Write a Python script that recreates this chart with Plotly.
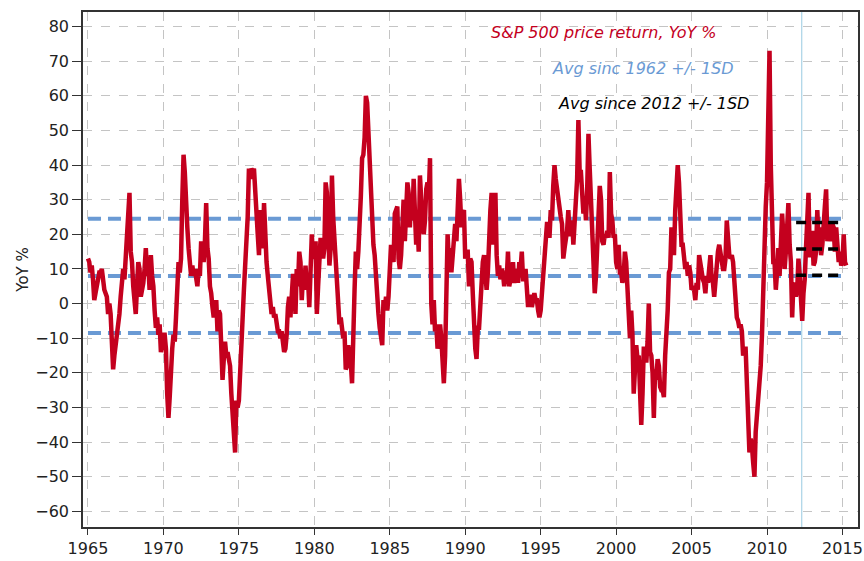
import plotly.graph_objects as go

START_YEAR = 1965
# S&P 500 price return, YoY %, monthly
yoy_1965_1974 = [
    13, 12, 9, 11, 7, 1, 3, 6, 7, 9, 9, 10,
    6, 4, 3, 2, -3, 0, -3, -12, -19, -15, -12, -10,
    -5, -3, 2, 6, 10, 7, 13, 22, 29, 32, 15, 12,
    5, -1, -3, 5, 12, 10, 2, 4, 6, 10, 16, 8,
    11, 4, 14, 8, 5, -2, -7, -4, -9, -6, -14, -12,
    -9, -9, -13, -26, -33, -27, -16, -13, -9, -11, -4, 2,
    12, 9, 13, 30, 43, 38, 26, 22, 16, 12, 8, 11,
    8, 10, 7, 5, 10, 8, 18, 13, 12, 18, 29, 16,
    13, 5, 3, -1, -4, -2, 1, -8, -2, -3, -18, -22,
    -16, -11, -15, -14, -16, -18, -26, -31, -38, -43, -28, -30,
]
yoy_1975_1984 = [
    -28, -18, -13, -4, 4, 11, 18, 25, 39, 36, 39, 38,
    39, 30, 21, 20, 14, 27, 18, 16, 29, 17, 12, 8,
    4, 1, -3, -1, -4, -3, -5, -8, -8, -10, -8, -13,
    -14, -13, -9, -1, 2, -4, 3, 8, 8, -3, 10, 5,
    15, 12, 1, 8, 4, 11, 5, 7, -1, 9, 20, 13,
    14, 18, -3, 5, 15, 19, 17, 13, 16, 35, 32, 24,
    11, 16, 37, 25, 19, 14, 8, 0, -6, -4, -9, -10,
    -8, -19, -18, -12, -16, -17, -23, -3, 4, 15, 10, 15,
    21, 31, 42, 43, 48, 60, 58, 50, 38, 28, 20, 17,
    14, 6, 4, -3, -7, -9, -12, 1, -2, 2, -2, 2,
]
yoy_1985_1994 = [
    10, 17, 14, 12, 26, 27, 28, 13, 10, 14, 24, 30,
    18, 30, 35, 32, 22, 31, 24, 36, 27, 17, 24, 15,
    37, 26, 23, 20, 24, 33, 35, 31, 42, 0, -6, 1,
    -8, -6, -13, -10, -6, -10, -15, -23, -15, 8, 20, 12,
    16, 9, 15, 20, 23, 18, 29, 36, 30, 22, 26, 27,
    13, 15, 15, 5, 13, 12, 3, -8, -13, -16, -7, -7,
    0, 11, 12, 14, 8, 4, 9, 23, 27, 32, 17, 26,
    32, 14, 8, 11, 7, 10, 9, 5, 8, 7, 15, 5,
    7, 7, 12, 6, 8, 10, 6, 12, 10, 15, 7, 7,
    10, 5, -1, 2, 2, -1, 2, 3, 1, 1, -2, -4,
]
yoy_1995_2004 = [
    -2, 4, 10, 14, 18, 23, 23, 19, 27, 24, 34, 40,
    36, 33, 29, 27, 25, 23, 13, 16, 18, 21, 27, 20,
    20, 24, 17, 24, 28, 36, 53, 38, 38, 30, 26, 31,
    24, 33, 49, 39, 29, 28, 17, 3, 8, 20, 22, 34,
    30, 18, 17, 20, 19, 21, 19, 38, 26, 24, 19, 20,
    12, 10, 17, 9, 9, 6, 8, 15, 12, 5, -5, -10,
    -2, -9, -26, -14, -12, -16, -15, -25, -35, -26, -13, -13,
    -17, -11, 0, -14, -15, -20, -33, -19, -22, -16, -18, -24,
    -25, -25, -27, -15, -10, -2, 9, 10, 22, 19, 14, 27,
    33, 40, 35, 21, 17, 17, 11, 10, 12, 8, 11, 9,
]
yoy_2005_2015 = [
    4, 5, 4, 1, 6, 4, 14, 11, 10, 7, 6, 3,
    8, 6, 10, 14, 7, 6, 2, 7, 9, 15, 17, 14,
    12, 10, 10, 13, 24, 18, 14, 13, 14, 12, 6, 3,
    -4, -5, -7, -6, -8, -15, -13, -13, -24, -37, -43, -39,
    -41, -46, -50, -37, -33, -28, -22, -18, -9, 4, 22, 28,
    35, 50, 73, 40, 19, 12, 12, 4, 9, 16, 8, 18,
    26, 20, 10, 15, 24, 29, 17, 12, -4, 6, 5, 2,
    4, 13, 8, 3, -5, 3, 7, 16, 27, 32, 14, 14,
    21, 11, 12, 15, 27, 18, 22, 14, 17, 25, 28, 33,
    18, 23, 19, 18, 23, 22, 15, 22, 17, 12, 15, 11,
    12, 20, 12, 11,
]

# Reference bands
avg_1962 = 8.0
sd_1962 = 16.5
band_1962_span = [1965.0, 2014.93]
avg_2012 = 15.8
sd_2012 = 7.6
band_2012_span = [2011.93, 2014.89]
marker_year = 2012.3

x_ticks = list(range(1965, 2016, 5))
y_ticks = list(range(-60, 81, 10))

label_main = "S&P 500 price return, YoY %"
label_1962 = "Avg sinc 1962 +/- 1SD"
label_2012 = "Avg since 2012 +/- 1SD"
y_title = "YoY %"

yoy = yoy_1965_1974 + yoy_1975_1984 + yoy_1985_1994 + yoy_1995_2004 + yoy_2005_2015
years = [START_YEAR + i / 12 for i in range(len(yoy))]

RED = "#C4001E"
BLUE = "#6A9AD4"
FONT = "DejaVu Sans"
Y_RANGE = [-64.5, 84.2]

fig = go.Figure()

fig.add_trace(go.Scatter(
    x=[marker_year, marker_year], y=Y_RANGE, mode="lines",
    line=dict(color="#A9D3E6", width=1.2), hoverinfo="skip", showlegend=False))

for lvl in (avg_1962 + sd_1962, avg_1962, avg_1962 - sd_1962):
    fig.add_trace(go.Scatter(
        x=band_1962_span, y=[lvl, lvl], mode="lines",
        line=dict(color=BLUE, width=4, dash="13px,7px"),
        showlegend=False))

fig.add_trace(go.Scatter(
    x=years, y=yoy, mode="lines",
    line=dict(color=RED, width=4.5), showlegend=False))

for lvl in (avg_2012 + sd_2012, avg_2012, avg_2012 - sd_2012):
    fig.add_trace(go.Scatter(
        x=band_2012_span, y=[lvl, lvl], mode="lines",
        line=dict(color="black", width=3.5, dash="10px,6px"),
        showlegend=False))

L, R, T, B = 83, 858, 12, 527


def ann(text, xc, yc, color):
    fig.add_annotation(
        x=(xc - L) / (R - L), y=1 - (yc - T) / (B - T),
        xref="paper", yref="paper", text=text,
        showarrow=False, xanchor="center", yanchor="middle",
        font=dict(family=FONT, size=16, color=color, style="italic"))


ann(label_main, 604, 33, RED)
ann(label_1962, 643, 68, BLUE)
ann(label_2012, 653, 103, "black")

fig.update_layout(
    width=864, height=561,
    margin=dict(l=L, r=864 - R, t=T, b=561 - B),
    paper_bgcolor="white", plot_bgcolor="white",
    font=dict(family=FONT, size=16, color="#222"),
)
fig.update_xaxes(
    range=[1964.67, 2016.03], tickvals=x_ticks, tickformat="d",
    showgrid=True, gridcolor="#C4C4C4", griddash="dash", gridwidth=1,
    showline=True, mirror=True, linecolor="#333", linewidth=1.5,
    ticks="outside", ticklen=6, tickcolor="#333", zeroline=False,
    automargin=False, tickfont=dict(size=16))
fig.update_yaxes(
    range=Y_RANGE, tickvals=y_ticks,
    showgrid=True, gridcolor="#C4C4C4", griddash="dash", gridwidth=1,
    showline=True, mirror=True, linecolor="#333", linewidth=1.5,
    ticks="outside", ticklen=9, tickcolor="#333", zeroline=False,
    automargin=False,
    title=dict(text=y_title, standoff=3, font=dict(size=15)),
    tickfont=dict(size=16))

fig.write_html("out.html", config={"displayModeBar": False},
               post_script="document.body.style.margin='0';")
